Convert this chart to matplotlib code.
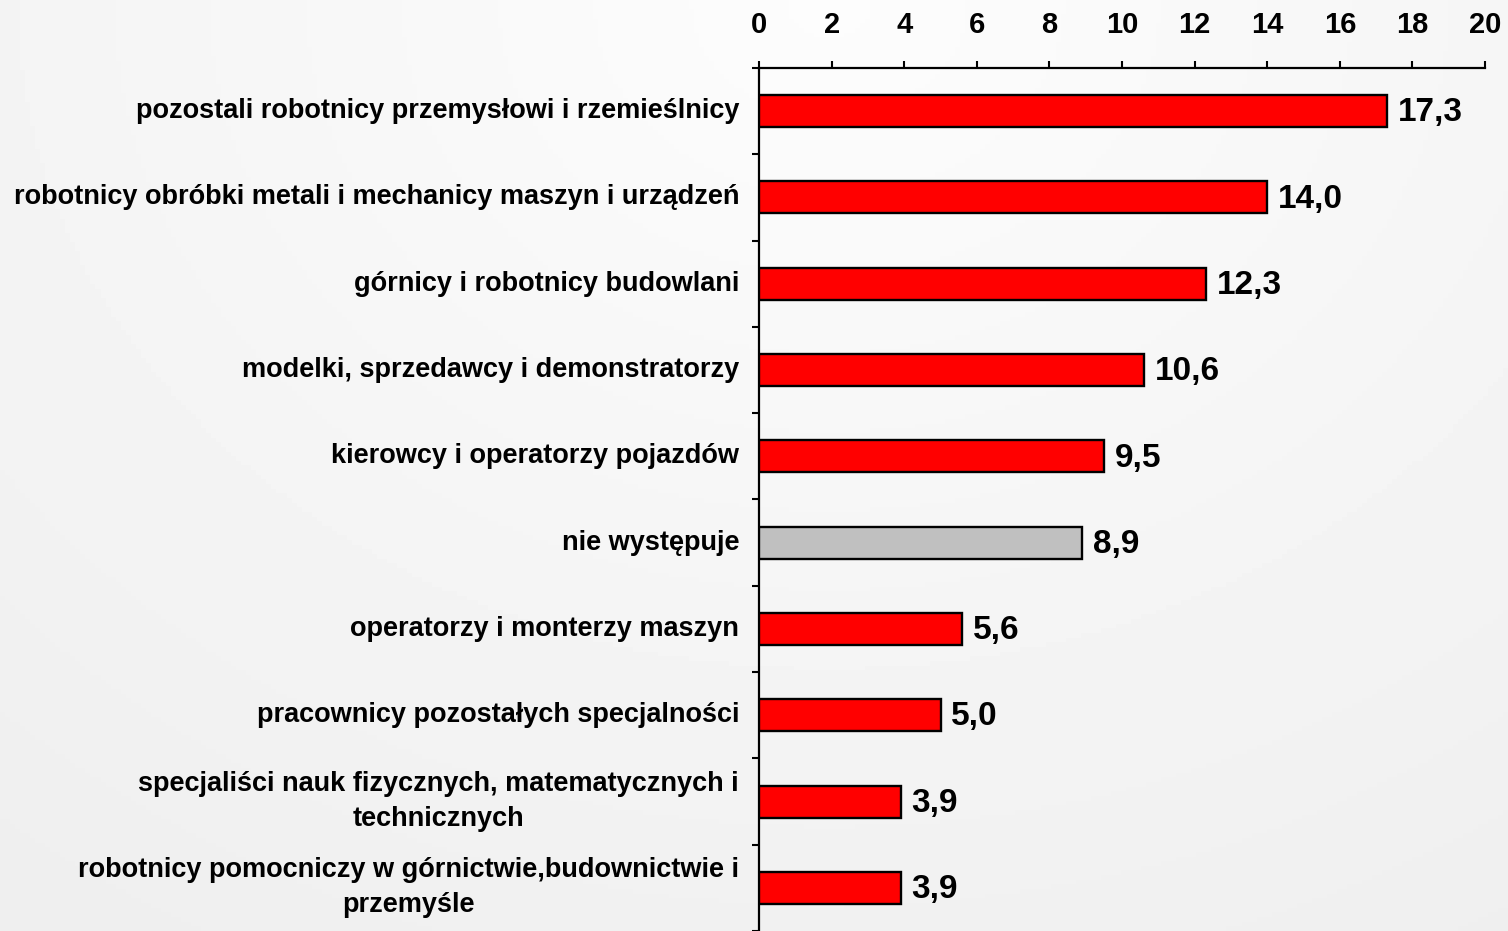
import matplotlib
matplotlib.use("Agg")
import matplotlib.pyplot as plt
import numpy as np

categories = [
    "pozostali robotnicy przemysłowi i rzemieślnicy",
    "robotnicy obróbki metali i mechanicy maszyn i urządzeń",
    "górnicy i robotnicy budowlani",
    "modelki, sprzedawcy i demonstratorzy",
    "kierowcy i operatorzy pojazdów",
    "nie występuje",
    "operatorzy i monterzy maszyn",
    "pracownicy pozostałych specjalności",
    "specjaliści nauk fizycznych, matematycznych i\ntechnicznych",
    "robotnicy pomocniczy w górnictwie,budownictwie i\nprzemyśle",
]
values = [17.3, 14.0, 12.3, 10.6, 9.5, 8.9, 5.6, 5.0, 3.9, 3.9]
value_labels = ["17,3", "14,0", "12,3", "10,6", "9,5", "8,9", "5,6", "5,0", "3,9", "3,9"]
bar_colors = ["#ff0000"] * 5 + ["#c0c0c0"] + ["#ff0000"] * 4
xticks = list(range(0, 21, 2))

plt.rcParams['font.family'] = ['Liberation Sans', 'DejaVu Sans']

fig = plt.figure(figsize=(15.08, 9.31), dpi=100)

# background gradient
bg = fig.add_axes([0, 0, 1, 1], zorder=-10)
yy, xx = np.mgrid[0:1:200j, 0:1:300j]
r = np.sqrt(((xx - 0.55) / 0.9) ** 2 + ((yy - 0.0) / 1.2) ** 2)
shade = 0.99 - 0.055 * np.clip(r, 0, 1)
bg.imshow(shade, cmap='gray', vmin=0, vmax=1, aspect='auto', extent=[0, 1, 1, 0])
bg.axis('off')

ax = fig.add_axes([0.5033, 0.0, 0.4815, 0.927])
ax.patch.set_alpha(0)
y = np.arange(len(categories))
ax.barh(y, values, height=0.37, color=bar_colors, edgecolor='black', linewidth=1.7, zorder=3)
ax.set_ylim(len(categories) - 0.5, -0.5)
ax.set_xlim(0, 20)

ax.xaxis.tick_top()
ax.set_xticks(xticks)
ax.set_xticklabels([str(t) for t in xticks], fontsize=21, fontweight='bold')
ax.tick_params(axis='x', direction='out', length=5, width=1.5, pad=16)

ax.set_yticks(np.arange(-0.5, len(categories), 1), minor=False)
ax.set_yticklabels([])
ax.tick_params(axis='y', direction='out', length=5, width=1.5)
for i, c in enumerate(categories):
    ax.text(-0.55, i, c, ha='right', va='center', multialignment='center',
            fontsize=19.5, fontweight='bold', transform=ax.transData, linespacing=1.45)

for i, (v, lab) in enumerate(zip(values, value_labels)):
    ax.text(v + 0.3, i + 0.02, lab, ha='left', va='center', fontsize=24, fontweight='bold')

for s in ['right', 'bottom']:
    ax.spines[s].set_visible(False)
ax.spines['top'].set_linewidth(1.6)
ax.spines['left'].set_linewidth(1.6)

fig.savefig("out.png", dpi=100)
